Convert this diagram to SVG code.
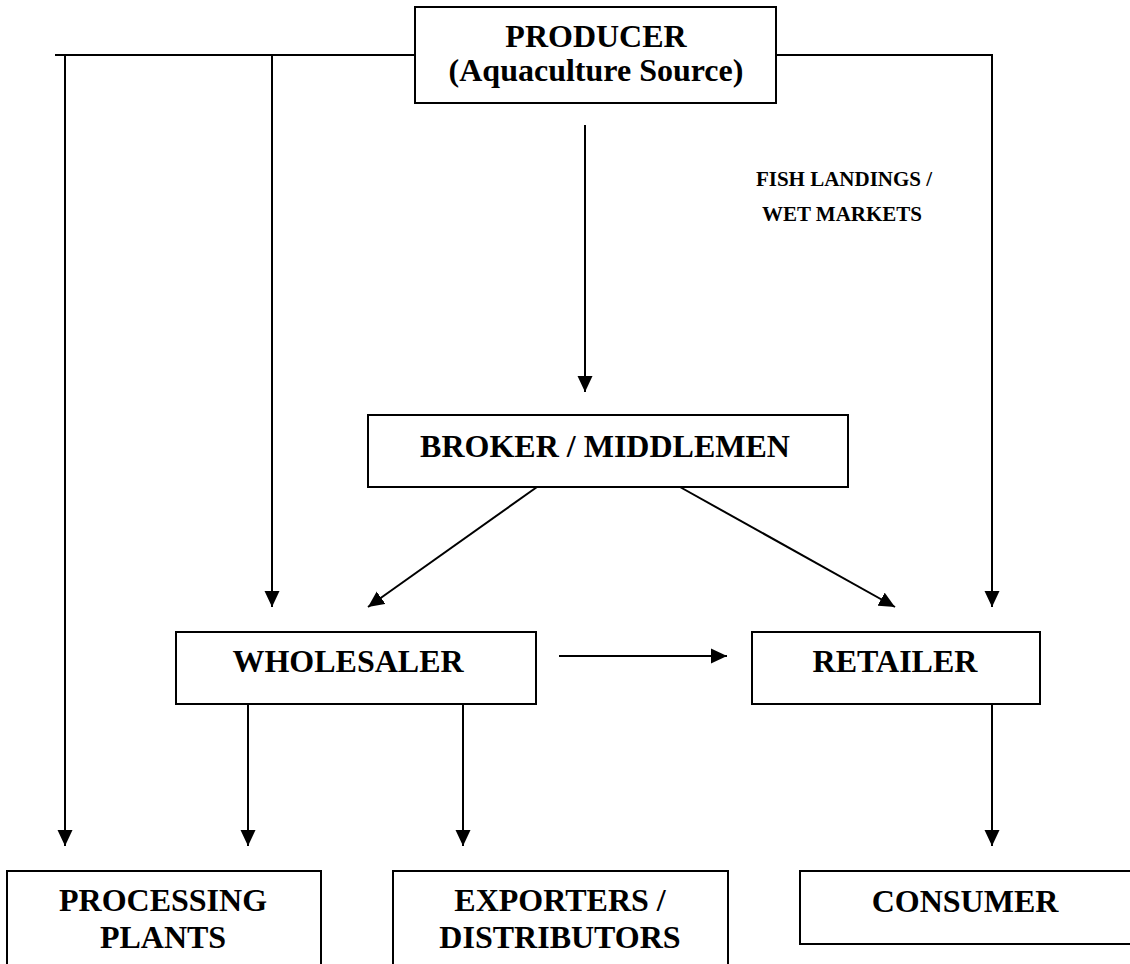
<svg xmlns="http://www.w3.org/2000/svg" width="1130" height="964" viewBox="0 0 1130 964">
  <defs>
    <marker id="arrow" markerUnits="userSpaceOnUse" markerWidth="16" markerHeight="16" refX="16" refY="8" orient="auto">
      <path d="M0,0.5 L16,8 L0,15.5 Z" fill="#000"/>
    </marker>
    <style>
      .box { fill: #fff; stroke: #000; stroke-width: 2; }
      .lbl { font-family: "Liberation Serif", "Times New Roman", serif; font-weight: bold; font-size: 32px; fill: #000; text-anchor: middle; }
      .small { font-size: 21px; }
      .wire { fill: none; stroke: #000; stroke-width: 2; }
      .arr { marker-end: url(#arrow); }
    </style>
  </defs>
  <rect width="1130" height="964" fill="#fff"/>

  <!-- connectors -->
  <g id="connectors">
    <path class="wire" d="M55,55 H415"/>
    <path class="wire arr" d="M65,55 V846"/>
    <path class="wire arr" d="M272,55 V607"/>
    <path class="wire arr" d="M776,55 H992 V607"/>
    <path class="wire arr" d="M585,125 V392"/>
    <path class="wire arr" d="M537,487 L368,607"/>
    <path class="wire arr" d="M680,487 L895,607"/>
    <path class="wire arr" d="M559,656 H727"/>
    <path class="wire arr" d="M248,704 V846"/>
    <path class="wire arr" d="M463,704 V846"/>
    <path class="wire arr" d="M992,704 V846"/>
  </g>

  <!-- label beside the producer-to-broker flow -->
  <g id="fish-landings">
    <text class="lbl small" x="844" y="186">FISH LANDINGS /</text>
    <text class="lbl small" x="842" y="221">WET MARKETS</text>
  </g>

  <g id="producer">
    <rect class="box" x="415" y="7" width="361" height="96"/>
    <text class="lbl" x="596" y="47">PRODUCER</text>
    <text class="lbl" x="596" y="81">(Aquaculture Source)</text>
  </g>

  <g id="broker">
    <rect class="box" x="368" y="415" width="480" height="72"/>
    <text class="lbl" x="605" y="457">BROKER / MIDDLEMEN</text>
  </g>

  <g id="wholesaler">
    <rect class="box" x="176" y="632" width="360" height="72"/>
    <text class="lbl" x="348" y="672">WHOLESALER</text>
  </g>

  <g id="retailer">
    <rect class="box" x="752" y="632" width="288" height="72"/>
    <text class="lbl" x="895" y="672">RETAILER</text>
  </g>

  <g id="processing-plants">
    <rect class="box" x="7" y="871" width="314" height="130"/>
    <text class="lbl" x="163" y="911">PROCESSING</text>
    <text class="lbl" x="163" y="948">PLANTS</text>
  </g>

  <g id="exporters">
    <rect class="box" x="393" y="871" width="335" height="130"/>
    <text class="lbl" x="560" y="911">EXPORTERS /</text>
    <text class="lbl" x="560" y="948">DISTRIBUTORS</text>
  </g>

  <g id="consumer">
    <rect class="box" x="800" y="871" width="345" height="73"/>
    <text class="lbl" x="965" y="912">CONSUMER</text>
  </g>
</svg>
